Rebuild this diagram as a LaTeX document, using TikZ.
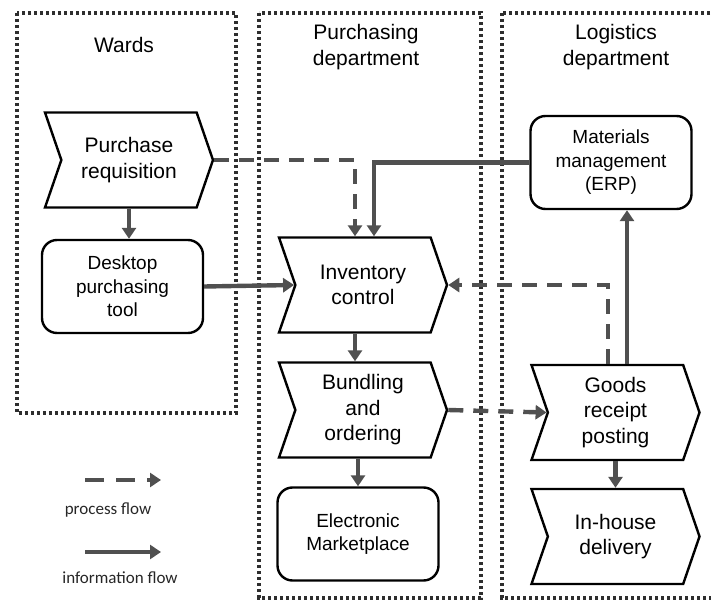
\documentclass[tikz,border=0pt]{standalone}
\usepackage{fontspec}
\setmainfont{Liberation Sans}
\newfontfamily\legendfont{Carlito}
\usetikzlibrary{shapes.symbols,arrows.meta}

\definecolor{flowgray}{HTML}{505050}
\definecolor{lanegray}{HTML}{2E2E2E}

\begin{document}
\begin{tikzpicture}
[   x=1pt,y=-1pt,
    lane/.style={draw=lanegray,line width=3.3pt,dash pattern=on 3.3pt off 2.7pt},
    title/.style={align=center,font=\fontsize{21}{26}\selectfont},
    chev/.style={draw=black,line width=2.4pt,signal,signal from=west,signal to=east,
        signal pointer angle=142,minimum width=168pt,minimum height=95pt,inner sep=0pt,
        align=center,font=\fontsize{21}{25.5}\selectfont},
    rbox/.style={draw=black,line width=2.4pt,rounded corners=15pt,minimum width=161pt,
        minimum height=93pt,inner sep=0pt,align=center,font=\fontsize{19}{23.5}\selectfont},
    info/.style={draw=flowgray,line width=4.4pt,-{Triangle[length=11pt,width=14pt]}},
    proc/.style={info,dash pattern=on 15pt off 10pt},
    legend/.style={font=\legendfont\fontsize{17}{20}\selectfont,text=black!85},
]
    \useasboundingbox (0,0) rectangle (711,601);

    % lanes
    \draw[lane] (17,13) rectangle (236,413);
    \draw[lane] (259,13) rectangle (481,598);
    \draw[lane] (502,13) rectangle (720,598);

    \node[title] (wards) at (124,45) {Wards};
    \node[title] (purch) at (366,47) {Purchasing\\department};
    \node[title] (logis) at (616,47) {Logistics\\department};

    % process steps
    \node[chev] (req) at (129,160) {Purchase\\requisition};
    \node[rbox] (dpt) at (122.5,286.5) {Desktop\\purchasing\\tool};
    \node[chev] (inv) at (363,285) {Inventory\\control};
    \node[chev] (bun) at (363,410) {Bundling\\and\\ordering};
    \node[rbox] (emp) at (358,534) {Electronic\\Marketplace};
    \node[rbox] (erp) at (611,162.5) {Materials\\management\\(ERP)};
    \node[chev] (grp) at (615.5,412.5) {Goods\\receipt\\posting};
    \node[chev] (ihd) at (615.5,536.5) {In-house\\delivery};

    % flows
    \draw[info] (req.south) -- (req.south |- dpt.north);
    \draw[proc] (req.east) -| ([xshift=-8pt]inv.north);
    \draw[info] (erp.west) -| ([xshift=11pt]inv.north);
    \draw[info] (dpt.east) -- (inv.west);
    \draw[proc] ([xshift=-7.5pt]grp.north) |- (inv.east);
    \draw[info] ([xshift=11.5pt]grp.north) -- ([xshift=11.5pt]grp.north |- erp.south);
    \draw[info] ([xshift=-8pt]inv.south) -- ([xshift=-8pt]bun.north);
    \draw[proc] (bun.east) -- (grp.west);
    \draw[info] (bun.south -| emp.north) -- (emp.north);
    \draw[info] (grp.south -| ihd.north) -- (ihd.north);

    % legend
    \coordinate (pfa) at (85,480);
    \coordinate (pfb) at (161,480);
    \draw[proc,dash pattern=on 19pt off 12pt] (pfa) -- (pfb);
    \node[legend] (pft) at (108,510) {process flow};
    \coordinate (ifa) at (85,552);
    \coordinate (ifb) at (161,552);
    \draw[info] (ifa) -- (ifb);
    \node[legend] (ift) at (120,578) {information flow};
\end{tikzpicture}
\end{document}
